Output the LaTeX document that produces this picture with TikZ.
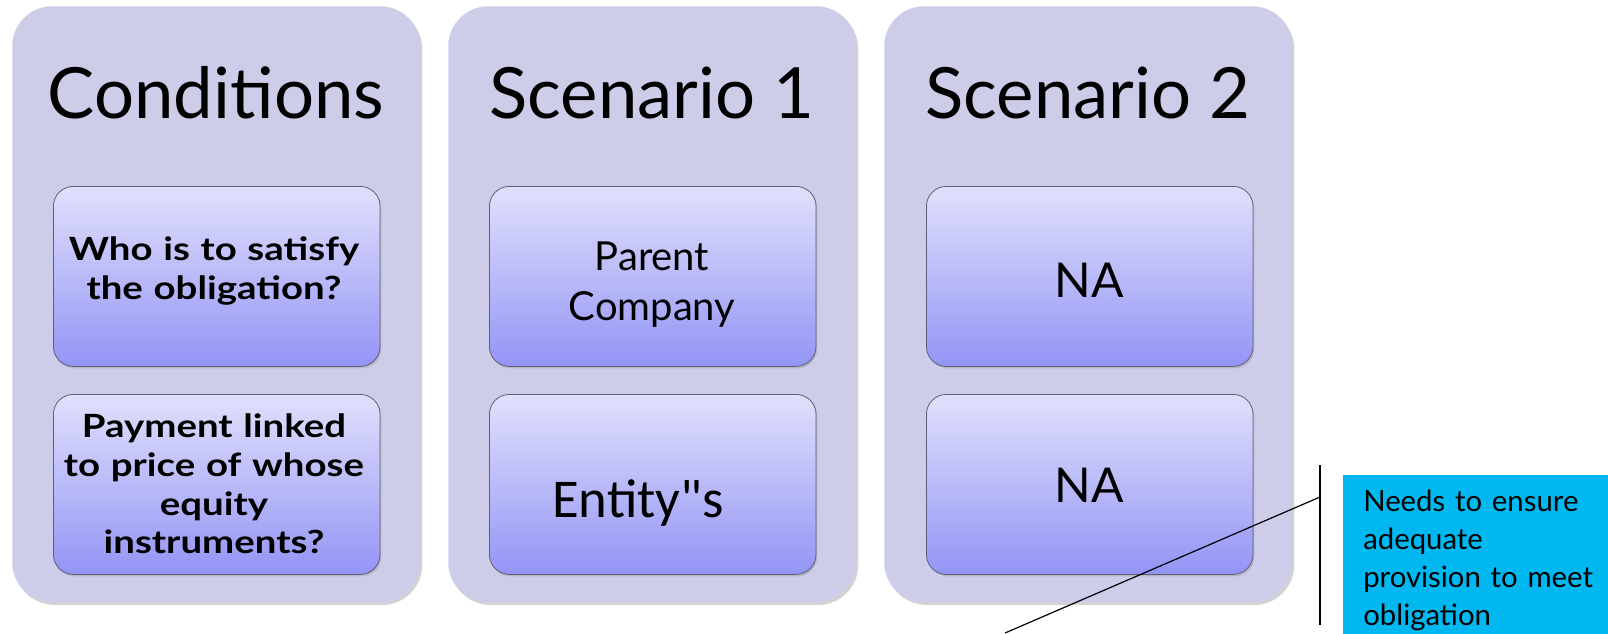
\documentclass[tikz,border=0pt]{standalone}
\usepackage{fontspec}
\setmainfont{Lato}
\newfontfamily\calibri{Carlito}
\newfontfamily\widebold[FakeStretch=1.2]{Lato Bold}
\usepackage{xcolor}
\usetikzlibrary{shadows}

\definecolor{colfill}{RGB}{205,205,234}
\definecolor{celltop}{RGB}{224,224,252}
\definecolor{cellbot}{RGB}{148,148,246}
\definecolor{cellline}{RGB}{95,95,115}
\definecolor{noteblue}{RGB}{0,183,240}

\tikzset{
  column/.style={anchor=north west, fill=colfill, rounded corners=30pt,
    minimum width=306pt, minimum height=447pt, inner sep=0pt,
    drop shadow={opacity=0.35, shadow xshift=1.5pt, shadow yshift=-2pt}},
  cell/.style={anchor=north west, draw=cellline, line width=0.6pt,
    rounded corners=15pt, top color=celltop, bottom color=cellbot,
    minimum width=245pt, minimum height=135pt, inner sep=0pt,
    drop shadow={opacity=0.3, shadow xshift=1pt, shadow yshift=-1.5pt}},
  title/.style={anchor=base, inner sep=0pt, font=\fontsize{53}{60}\selectfont},
  celltext/.style={align=center, inner sep=0pt, text width=240pt},
  asktext/.style={celltext, font=\widebold\fontsize{24}{29}\selectfont},
}

\begin{document}
\begin{tikzpicture}[x=0.75pt,y=0.75pt,yscale=-1,xscale=1]
	\useasboundingbox (0,0) rectangle (1608,633);
	
	%Columns
	\draw (12,6) node (colA) [column] {};
	\draw (448,6) node (colB) [column] {};
	\draw (884,6) node (colC) [column] {};
	
	%Cells
	\draw (53,186) node (cellA1) [cell] {};
	\draw (53,394) node (cellA2) [cell] {};
	\draw (489,186) node (cellB1) [cell] {};
	\draw (489,394) node (cellB2) [cell] {};
	\draw (926,186) node (cellC1) [cell] {};
	\draw (926,394) node (cellC2) [cell] {};
	
	% Text Node
	\draw (216,118) node (ttlA) [title] {Conditions};
	% Text Node
	\draw (652,118) node (ttlB) [title] {Scenario 1};
	% Text Node
	\draw (1088,118) node (ttlC) [title] {Scenario 2};
	
	% Text Node
	\draw (214,271) node (txtA1) [asktext] {Who is to satisfy\\the obligation?};
	% Text Node
	\draw (214,484) node (txtA2) [asktext] {Payment linked\\to price of whose\\equity\\instruments?};
	% Text Node
	\draw (652,285) node (txtB1) [celltext, font=\fontsize{30}{37.5}\selectfont] {Parent\\Company};
	% Text Node
	\draw (638,517) node (txtB2) [anchor=base, inner sep=0pt, font=\calibri\fontsize{41}{45}\selectfont] {Entity{"}s};
	% Text Node
	\draw (1089,297) node (txtC1) [anchor=base, inner sep=0pt, font=\fontsize{36}{40}\selectfont] {NA};
	% Text Node
	\draw (1089,502) node (txtC2) [anchor=base, inner sep=0pt, font=\fontsize{36}{40}\selectfont] {NA};
	
	%Callout
	\draw (1343,475) node (note) [anchor=north west, fill=noteblue, minimum width=199pt, minimum height=119pt, inner sep=0pt] {};
	% Text Node
	\draw (1363,490) node (notetxt) [anchor=north west, inner sep=0pt, text width=185pt, align=left, font=\fontsize{22}{28.5}\selectfont] {Needs to ensure\\adequate\\provision to meet\\obligation};
	\coordinate (barT) at (1320,465);
	\coordinate (barB) at (1320,625);
	\coordinate (barM) at (1320,497);
	\coordinate (tail) at (1005,633);
	%Straight Lines
	\draw [line width=0.9pt] (barT) -- (barB) ;
	%Straight Lines
	\draw [line width=0.9pt] (tail) -- (barM) ;
\end{tikzpicture}
\end{document}
